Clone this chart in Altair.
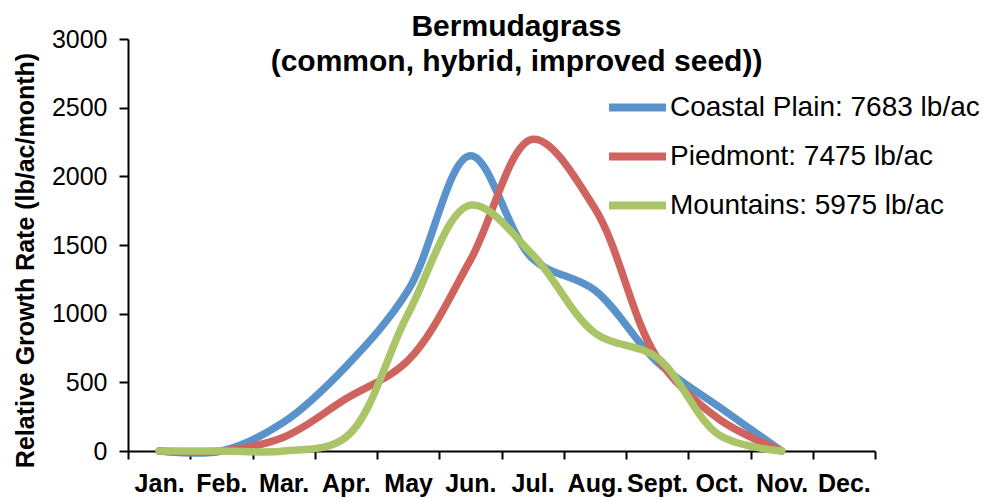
import altair as alt
import pandas as pd

months = ["Jan.", "Feb.", "Mar.", "Apr.", "May", "Jun.", "Jul.", "Aug.", "Sept.", "Oct.", "Nov.", "Dec."]
series = ["Coastal Plain: 7683 lb/ac", "Piedmont: 7475 lb/ac", "Mountains: 5975 lb/ac"]
coastal = [0, 0, 210, 615, 1170, 2150, 1400, 1170, 648, 320, 0, None]
piedmont = [0, 0, 100, 380, 660, 1390, 2270, 1765, 680, 230, 0, None]
mountains = [0, 0, 0, 100, 1000, 1790, 1430, 860, 680, 115, 0, None]
colors = ["#5A93CB", "#CF635E", "#A9C567"]
y_ticks = [0, 500, 1000, 1500, 2000, 2500, 3000]

rows = []
for name, vals in zip(series, [coastal, piedmont, mountains]):
    for m, v in zip(months, vals):
        if v is not None:
            rows.append({"month": m, "value": v, "series": name})
df = pd.DataFrame(rows)

FONT = "Liberation Sans"

chart = alt.Chart(df).mark_line(
    interpolate="catmull-rom", strokeWidth=7.5, strokeCap="round"
).encode(
    x=alt.X(
        "month:O", sort=months,
        scale=alt.Scale(type="band", domain=months, paddingInner=0, paddingOuter=0),
        axis=alt.Axis(title=None, tickBand="extent", labelAngle=0, labelFont=FONT,
                      labelFontSize=25, labelFontWeight="bold", labelColor="black",
                      domainColor="black", domainWidth=2, tickColor="black", tickWidth=2,
                      tickSize=8, labelPadding=12, grid=False),
    ),
    y=alt.Y(
        "value:Q", scale=alt.Scale(domain=[0, 3000], nice=False),
        axis=alt.Axis(values=y_ticks, format="d", title="Relative Growth Rate (lb/ac/month)",
                      titleFont=FONT, titleFontSize=25, titleFontWeight="bold",
                      titleColor="black", titlePadding=13, titleY=221,
                      labelFont=FONT, labelFontSize=25,
                      labelColor="black", domainColor="black", domainWidth=2,
                      tickColor="black", tickWidth=2, tickSize=9, labelPadding=12, grid=False),
    ),
    color=alt.Color(
        "series:N", sort=series,
        scale=alt.Scale(domain=series, range=colors),
        legend=alt.Legend(title=None, orient="none", legendX=477, legendY=36,
                          symbolType="stroke", symbolSize=3249, symbolStrokeWidth=8,
                          labelFontSize=28, labelFont=FONT, labelColor="black",
                          labelOffset=0, rowPadding=0, padding=0, labelLimit=0),
    ),
).properties(
    width=747, height=412,
    autosize=alt.AutoSizeParams(type="none"),
    padding={"left": 120, "top": 31, "right": 107, "bottom": 48},
    title=alt.Title(
        text=["Bermudagrass", "(common, hybrid, improved seed))"],
        fontSize=30, font=FONT, fontWeight="bold", color="black",
        anchor="middle", frame="group", dx=15, offset=-50, lineHeight=35,
    ),
).configure_view(stroke=None)

chart.save("out.html", embed_options={"renderer": "svg", "actions": False})
